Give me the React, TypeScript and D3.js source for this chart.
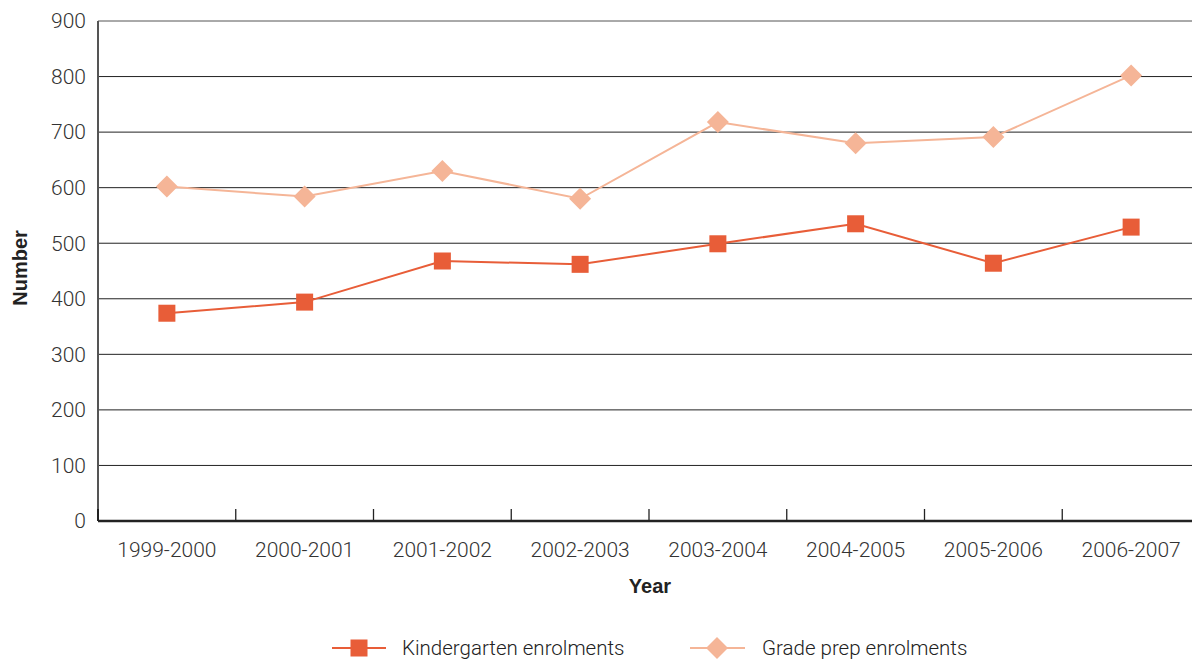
import React from "react";
import * as d3 from "d3";

const categories = ["1999-2000", "2000-2001", "2001-2002", "2002-2003", "2003-2004", "2004-2005", "2005-2006", "2006-2007"];
const kindergarten = [374, 394, 468, 462, 499, 535, 464, 529];
const gradePrep = [602, 584, 630, 580, 718, 680, 691, 802];
const yTicks = [0, 100, 200, 300, 400, 500, 600, 700, 800, 900];

const W = 1192, H = 664;
const left = 98, right = 1200, top = 21, bottom = 521;
const C1 = "#E85D38", C2 = "#F5B597";
const FONT = "Roboto, 'Open Sans', sans-serif";
const BOLD = "'Liberation Sans', Arial, sans-serif";

export default function App() {
  const x = d3.scaleBand<string>().domain(categories).range([left, right]);
  const cx = (c: string) => (x(c) as number) + x.bandwidth() / 2;
  const y = d3.scaleLinear().domain([0, 900]).range([bottom, top]);
  const line = d3.line<number>().x((_, i) => cx(categories[i])).y((v) => y(v));
  const sq = 17, dm = 11;
  const diamond = (px: number, py: number) => `M${px},${py - dm}L${px + dm},${py}L${px},${py + dm}L${px - dm},${py}Z`;
  return (
    <svg width={W} height={H} style={{ position: "absolute", left: 0, top: 0, background: "#fff" }} fontFamily={FONT}>
      {yTicks.filter((t) => t > 0).map((t) => (
        <line key={t} x1={left} x2={W} y1={y(t)} y2={y(t)} stroke={t === 900 ? "#555" : "#222"} strokeWidth={1} />
      ))}
      {yTicks.map((t) => (
        <text key={"l" + t} x={86} y={y(t)} dy="0.35em" textAnchor="end" fontSize={21} fontWeight={300} fill="#333">{t}</text>
      ))}
      <line x1={left} x2={left} y1={top} y2={bottom} stroke="#555" strokeWidth={2} />
      <line x1={left} x2={W} y1={bottom} y2={bottom} stroke="#222" strokeWidth={2.5} />
      {categories.map((c, i) => (
        <g key={c}>
          {i > 0 && <line x1={x(c)} x2={x(c)} y1={bottom} y2={bottom - 12} stroke="#222" strokeWidth={1.3} />}
          <text x={cx(c)} y={557} textAnchor="middle" fontSize={21} fontWeight={300} fill="#333">{c}</text>
        </g>
      ))}
      <line x1={left} x2={left} y1={bottom} y2={bottom - 12} stroke="#222" strokeWidth={2} />
      <text x={650} y={593} textAnchor="middle" fontSize={20} fontWeight={700} fill="#222" fontFamily={BOLD}>Year</text>
      <text transform={`translate(27,268) rotate(-90)`} textAnchor="middle" fontSize={20} fontWeight={700} fill="#222" fontFamily={BOLD}>Number</text>

      <path d={line(gradePrep) || ""} fill="none" stroke={C2} strokeWidth={2} />
      {gradePrep.map((v, i) => (
        <path key={"g" + i} d={diamond(cx(categories[i]), y(v))} fill={C2} />
      ))}
      <path d={line(kindergarten) || ""} fill="none" stroke={C1} strokeWidth={2} />
      {kindergarten.map((v, i) => (
        <rect key={"k" + i} x={cx(categories[i]) - sq / 2} y={y(v) - sq / 2} width={sq} height={sq} fill={C1} />
      ))}

      <g>
        <line x1={332} x2={386} y1={648} y2={648} stroke={C1} strokeWidth={2} />
        <rect x={359 - sq / 2} y={648 - sq / 2} width={sq} height={sq} fill={C1} />
        <text x={402} y={648} dy="0.35em" fontSize={20.5} fontWeight={300} fill="#222">Kindergarten enrolments</text>
        <line x1={690} x2={745} y1={648} y2={648} stroke={C2} strokeWidth={2} />
        <path d={diamond(717, 648)} fill={C2} />
        <text x={762} y={648} dy="0.35em" fontSize={20.5} fontWeight={300} fill="#222">Grade prep enrolments</text>
      </g>
    </svg>
  );
}
